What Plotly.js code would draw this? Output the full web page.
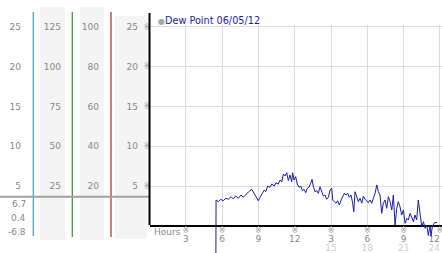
<!DOCTYPE html>
<html><head><meta charset="utf-8">
<script src="https://cdn.plot.ly/plotly-3.0.1.min.js"></script>
<style>html,body{margin:0;padding:0;background:#fff}#chart{width:442px;height:253px}</style>
</head><body><div id="chart"></div>
<script>
const seriesName = 'Dew Point 06/05/12';
const hours = [5.48,5.50,5.69,5.88,6.10,6.30,6.51,6.74,6.93,7.12,7.34,7.56,7.75,7.98,8.17,8.45,8.64,8.80,8.99,9.13,9.32,9.49,9.60,9.77,9.96,10.10,10.31,10.45,10.64,10.79,10.93,11.06,11.20,11.34,11.47,11.61,11.75,11.83,11.94,12.08,12.21,12.36,12.50,12.63,12.77,12.91,13.04,13.18,13.32,13.43,13.54,13.68,13.82,13.95,14.09,14.23,14.36,14.50,14.64,14.78,14.92,15.06,15.14,15.27,15.41,15.55,15.69,15.83,15.97,16.10,16.24,16.38,16.51,16.65,16.79,16.88,16.98,17.12,17.26,17.40,17.54,17.67,17.81,17.95,18.08,18.22,18.36,18.50,18.64,18.78,18.91,19.05,19.19,19.32,19.46,19.60,19.74,19.88,20.02,20.15,20.29,20.43,20.56,20.70,20.84,20.98,21.12,21.26,21.39,21.53,21.67,21.81,21.94,22.08,22.21,22.36,22.50,22.64,22.77,22.91,23.04,23.18,23.26,23.37,23.45,23.54,23.77];
const dewPoint = [-6.8,3.24,3.03,3.33,3.15,3.46,3.33,3.66,3.37,3.74,3.46,3.87,3.58,4.00,4.25,4.59,4.08,3.58,3.15,3.58,4.08,4.50,4.28,5.00,4.84,5.25,5.00,5.41,5.25,5.75,5.50,6.51,6.26,6.67,5.67,6.38,5.54,6.67,5.75,6.17,5.25,4.84,5.00,4.41,4.59,4.16,4.71,4.84,5.34,5.84,4.91,4.28,4.41,4.08,4.91,4.28,3.74,3.87,3.33,3.58,4.50,4.71,3.24,3.03,2.83,3.15,2.61,3.24,3.74,4.08,3.87,4.08,3.58,3.87,2.83,1.77,4.28,3.66,3.03,3.46,2.83,3.74,3.33,3.15,2.90,3.24,2.83,3.46,4.08,5.13,4.28,3.87,1.57,2.83,3.24,2.20,3.66,3.03,1.99,3.87,0.10,2.20,3.03,2.40,1.36,1.99,0.31,0.94,0.73,1.57,0.94,0.52,1.36,0.73,3.24,1.36,-0.11,0.52,-0.31,0.10,-1.2,0.10,-1.3,-0.11,0.10,0.39,0.42];
const yTicks = [5,10,15,20,25];
const col2Ticks = [25,50,75,100,125];
const col3Ticks = [20,40,60,80,100];
const xTickVals = [3,6,9,12,15,18,21,24];
const xTickText = ['3','6','9','12','3','6','9','12'];
const x24Vals = [15,18,21,24];
const x24Text = ['15','18','21','24'];
const statLabels = ['6.7','0.4','-6.8'];
const hoursLabel = 'Hours';
const tickMark = '※';

const W = 442, H = 253;
const px = x => x / W;
const py = y => 1 - y / H;
const valAt = p => 5 + (186 - p) / 7.965;
const FONT = 'DejaVu Sans';
const GRAY = '#888888';
const yRange = [valAt(225), valAt(24.5)];
const xRange = [0, 24.17];
const xDom = [px(149.5), 1];

const tfont = {family: FONT, size: 9, color: GRAY};
const lightFont = {family: FONT, size: 9, color: '#cfcfcf'};
const markFont = {family: FONT, size: 8, color: '#9a9a9a'};
const freeY = (pos, mult, vals, text, font) => ({
  overlaying: 'y', anchor: 'free', position: pos,
  range: [yRange[0]*mult, yRange[1]*mult],
  tickvals: vals, ticktext: text, tickfont: font || tfont, ticklabeloverflow: 'allow',
  showgrid: false, zeroline: false, showline: false, ticks: '', fixedrange: true
});
const freeX = (pos, vals, text, font, lp) => ({
  overlaying: 'x', anchor: 'free', position: pos, range: xRange,
  tickvals: vals, ticktext: text, tickfont: font, ticks: '', ticklabeloverflow: 'allow',
  ticklabelposition: lp || 'outside',
  showgrid: false, zeroline: false, showline: false, fixedrange: true
});
const blank = (xa, ya) => ({x: [null], y: [null], xaxis: xa, yaxis: ya, mode: 'lines',
  showlegend: false, hoverinfo: 'skip'});

const nX = xTickVals.length, n24 = x24Vals.length;

const traces = [
  blank('x', 'y'),
  {x: hours, y: dewPoint, xaxis: 'x2', yaxis: 'y2', mode: 'lines', name: seriesName,
   line: {color: '#1b1ba8', width: 1}, showlegend: false, hoverinfo: 'skip'},
  blank('x3', 'y'), blank('x4', 'y'), blank('x5', 'y'), blank('x6', 'y'), blank('x7', 'y'),
  blank('x', 'y3'), blank('x', 'y4'), blank('x', 'y5'), blank('x', 'y6'), blank('x', 'y7')
];

const layout = {
  width: W, height: H, margin: {l:0, r:0, t:0, b:0},
  paper_bgcolor: '#ffffff', plot_bgcolor: 'rgba(0,0,0,0)',
  showlegend: false,
  font: {family: FONT, size: 9, color: GRAY},
  xaxis: {domain: xDom, range: xRange, anchor: 'y', showgrid: true, gridcolor: '#dcdcdc',
    tickvals: xTickVals, showticklabels: false, ticks: '',
    showline: true, linecolor: '#000', linewidth: 1.5, zeroline: false, fixedrange: true},
  yaxis: {domain: [py(225), py(24.5)], range: yRange, anchor: 'x', tickvals: yTicks,
    showticklabels: false, showgrid: true, gridcolor: '#dcdcdc', zeroline: false,
    showline: false, ticks: '', fixedrange: true},
  xaxis2: {domain: xDom, range: xRange, anchor: 'y2', visible: false, fixedrange: true},
  yaxis2: {domain: [0, py(13)], range: [valAt(253), valAt(13)], anchor: 'x2', visible: false, fixedrange: true},
  xaxis5: freeX(py(224), xTickVals, xTickVals.map(() => tickMark), markFont),
  xaxis3: freeX(py(231.5), xTickVals.slice(0, nX - 1), xTickText.slice(0, nX - 1), tfont),
  xaxis6: freeX(py(231.5), xTickVals.slice(nX - 1), xTickText.slice(nX - 1), tfont, 'outside left'),
  xaxis4: freeX(py(241), x24Vals.slice(0, n24 - 1), x24Text.slice(0, n24 - 1), lightFont),
  xaxis7: freeX(py(241), x24Vals.slice(n24 - 1), x24Text.slice(n24 - 1), lightFont, 'outside left'),
  yaxis3: freeY(px(21), 1, yTicks, yTicks.map(String)),
  yaxis4: freeY(px(61), 5, col2Ticks, col2Ticks.map(String)),
  yaxis5: freeY(px(99), 4, col3Ticks, col3Ticks.map(String)),
  yaxis6: freeY(px(138), 1, yTicks, yTicks.map(String)),
  yaxis7: freeY(px(150.5), 1, yTicks, yTicks.map(() => tickMark), markFont),
  shapes: [
    {type:'rect', xref:'paper', yref:'paper', x0:px(40), x1:px(65), y0:py(240), y1:py(7), fillcolor:'#f4f4f4', line:{width:0}, layer:'below'},
    {type:'rect', xref:'paper', yref:'paper', x0:px(80), x1:px(104), y0:py(240), y1:py(7), fillcolor:'#f4f4f4', line:{width:0}, layer:'below'},
    {type:'rect', xref:'paper', yref:'paper', x0:px(115), x1:px(147), y0:py(239), y1:py(16), fillcolor:'#f4f4f4', line:{width:0}, layer:'below'},
    {type:'line', xref:'paper', yref:'paper', x0:px(33.3), x1:px(33.3), y0:py(236), y1:py(12), line:{color:'#47a6cc', width:1.3}},
    {type:'line', xref:'paper', yref:'paper', x0:px(72.3), x1:px(72.3), y0:py(237), y1:py(12), line:{color:'#3c9e3c', width:1.3}},
    {type:'line', xref:'paper', yref:'paper', x0:px(111), x1:px(111), y0:py(237), y1:py(12), line:{color:'#b03a3a', width:1.3}},
    {type:'line', xref:'paper', yref:'paper', x0:0, x1:px(149.5), y0:py(196.7), y1:py(196.7), line:{color:'#a0a0a0', width:2}},
    {type:'line', xref:'paper', yref:'paper', x0:px(149.5), x1:px(149.5), y0:py(225), y1:py(13), line:{color:'#000', width:2}}
  ],
  annotations: [
    ...statLabels.map((t, i) => ({text: t, xref:'paper', yref:'paper', x: px(27.5), xanchor:'right',
      y: py(204.3 + i*14), yanchor:'middle', showarrow:false, font: tfont})),
    {text: hoursLabel, xref:'paper', yref:'paper', x: px(152), xanchor:'left', y: py(232), yanchor:'middle',
      showarrow:false, font: tfont},
    {text: '<span style="color:#a8a8a8;font-size:8px">●</span><span style="color:#1b1ba8">' + seriesName + '</span>',
      xref:'paper', yref:'paper', x: px(156), xanchor:'left', y: py(21), yanchor:'middle', showarrow:false,
      font: {family: FONT, size: 9.7, color: '#1b1ba8'}}
  ]
};

Plotly.newPlot('chart', traces, layout, {displayModeBar: false, staticPlot: true});
</script></body></html>
